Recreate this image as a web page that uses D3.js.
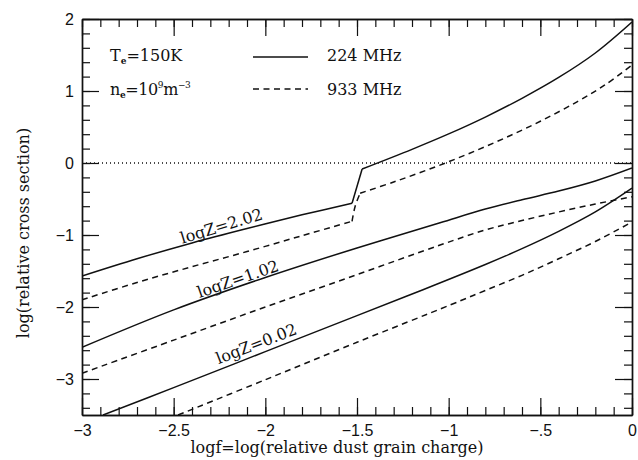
<!DOCTYPE html>
<html>
<head>
<meta charset="utf-8">
<script src="https://cdn.jsdelivr.net/npm/d3@7"></script>
<style>
  body { margin: 0; background: #fff; }
</style>
</head>
<body>
<div id="chart"></div>
<script>
// curves: [logf, log(relative cross section)]
// logZ=2.02 has a step near logf=-1.5, so it is kept in three pieces
var z202_224_lo = [[-3, -1.57], [-2.7, -1.33], [-2.4, -1.11], [-2.1, -0.91], [-1.8, -0.72], [-1.527, -0.56]];
var z202_224_step = [[-1.527, -0.56], [-1.472, -0.083]];
var z202_224_hi = [[-1.472, -0.083], [-1.2, 0.19], [-1.0, 0.404], [-0.8, 0.638], [-0.6, 0.898], [-0.4, 1.188],
  [-0.2, 1.528], [0, 1.958]];
var z202_933_lo = [[-3, -1.90], [-2.7, -1.66], [-2.4, -1.44], [-2.1, -1.23], [-1.8, -1.01], [-1.527, -0.81]];
var z202_933_step = [[-1.527, -0.81], [-1.51, -0.60], [-1.483, -0.42]];
var z202_933_hi = [[-1.483, -0.42], [-1.3, -0.264], [-1.1, -0.08], [-0.9, 0.12], [-0.7, 0.34], [-0.5, 0.58],
  [-0.3, 0.85], [-0.15, 1.08], [0, 1.36]];
var z102_224 = [[-3, -2.56], [-2.5, -2.04], [-2.0, -1.59], [-1.5, -1.18], [-1.047, -0.83], [-0.8, -0.64],
  [-0.6, -0.51], [-0.4, -0.39], [-0.2, -0.25], [0, -0.07]];
var z102_933 = [[-3, -2.92], [-2.5, -2.46], [-2.0, -2.0], [-1.5, -1.55], [-1.047, -1.14], [-0.8, -0.93],
  [-0.6, -0.80], [-0.4, -0.68], [-0.2, -0.57], [0, -0.47]];
var z002_224 = [[-2.885, -3.5], [-2.5, -3.12], [-2.0, -2.62], [-1.5, -2.12], [-1.14, -1.76], [-0.8, -1.41],
  [-0.6, -1.19], [-0.4, -0.95], [-0.2, -0.68], [0, -0.35]];
var z002_933 = [[-2.476, -3.5], [-2.0, -3.01], [-1.5, -2.49], [-0.99, -1.97], [-0.8, -1.77], [-0.6, -1.56],
  [-0.4, -1.33], [-0.2, -1.09], [0, -0.82]];

var curveLabels = ["logZ=2.02", "logZ=1.02", "logZ=0.02"];
var labelPos = [[-2.24, -0.875], [-2.15, -1.61], [-2.05, -2.51]];
var labelAngle = [17, 19, 21];
var freqLabels = ["224 MHz", "933 MHz"];

var xMajor = [-3, -2.5, -2, -1.5, -1, -0.5, 0];
var xTickText = ["\u22123", "\u22122.5", "\u22122", "\u22121.5", "\u22121", "\u2212.5", "0"];
var yMajor = [2, 1, 0, -1, -2, -3];
var yTickText = ["2", "1", "0", "\u22121", "\u22122", "\u22123"];

var W = 638, H = 460;
var margin = { top: 19, right: 6, bottom: 45, left: 82 },
  width = W - margin.left - margin.right,
  height = H - margin.top - margin.bottom;

var svg = d3.select("#chart").append("svg")
  .attr("width", W)
  .attr("height", H)
  .style("font-family", "'DejaVu Serif', serif");

var g = svg.append("g")
  .attr("transform", "translate(" + margin.left + "," + margin.top + ")");

var x = d3.scaleLinear().domain([-3, 0]).range([0, width]);
var y = d3.scaleLinear().domain([-3.5, 2]).range([height, 0]);

var xMinor = d3.range(-30, 1).map(function (d) { return d / 10; });
var yMinor = d3.range(-17, 11).map(function (d) { return d / 5; });

function xFmt(d) { return xTickText[xMajor.indexOf(d)]; }
function yFmt(d) { return yTickText[yMajor.indexOf(d)]; }

// minor ticks first, on all four sides
g.append("g").attr("transform", "translate(0," + height + ")")
  .call(d3.axisBottom(x).tickValues(xMinor).tickSize(-8).tickSizeOuter(0).tickFormat(""));
g.append("g")
  .call(d3.axisTop(x).tickValues(xMinor).tickSize(-8).tickSizeOuter(0).tickFormat(""));
g.append("g")
  .call(d3.axisLeft(y).tickValues(yMinor).tickSize(-8).tickSizeOuter(0).tickFormat(""));
g.append("g").attr("transform", "translate(" + width + ",0)")
  .call(d3.axisRight(y).tickValues(yMinor).tickSize(-8).tickSizeOuter(0).tickFormat(""));

// major ticks + labels
g.append("g").attr("transform", "translate(0," + height + ")")
  .call(d3.axisBottom(x).tickValues(xMajor).tickSize(-17).tickSizeOuter(0).tickPadding(10).tickFormat(xFmt));
g.append("g")
  .call(d3.axisTop(x).tickValues(xMajor).tickSize(-17).tickSizeOuter(0).tickFormat(""));
g.append("g")
  .call(d3.axisLeft(y).tickValues(yMajor).tickSize(-17).tickSizeOuter(0).tickPadding(8).tickFormat(yFmt));
g.append("g").attr("transform", "translate(" + width + ",0)")
  .call(d3.axisRight(y).tickValues(yMajor).tickSize(-17).tickSizeOuter(0).tickFormat(""));

g.selectAll(".domain").attr("stroke", "#111").attr("stroke-width", 1.4);
g.selectAll(".tick line").attr("stroke", "#111").attr("stroke-width", 1.2);
g.selectAll(".tick text")
  .attr("fill", "#111")
  .style("font-family", "'Liberation Sans', Arial, sans-serif")
  .style("font-size", "16px");

// zero line
g.append("line")
  .attr("x1", x(-3)).attr("x2", x(0))
  .attr("y1", y(0)).attr("y2", y(0))
  .attr("stroke", "#111")
  .attr("stroke-width", 1.3)
  .attr("stroke-dasharray", "1,3");

g.append("clipPath").attr("id", "clip")
  .append("rect").attr("width", width).attr("height", height);

var line = d3.line()
  .x(function (d) { return x(d[0]); })
  .y(function (d) { return y(d[1]); })
  .curve(d3.curveCatmullRom.alpha(0.5));

var dashed = "6,4.5";
var pieces = [
  { data: z202_224_lo, dash: null }, { data: z202_224_step, dash: null }, { data: z202_224_hi, dash: null },
  { data: z202_933_lo, dash: dashed }, { data: z202_933_step, dash: dashed }, { data: z202_933_hi, dash: dashed },
  { data: z102_224, dash: null }, { data: z102_933, dash: dashed },
  { data: z002_224, dash: null }, { data: z002_933, dash: dashed }
];

g.selectAll(".curve")
  .data(pieces)
  .enter()
  .append("path")
    .attr("class", "curve")
    .attr("clip-path", "url(#clip)")
    .attr("d", function (d) { return line(d.data); })
    .attr("fill", "none")
    .attr("stroke", "#111")
    .attr("stroke-width", 1.5)
    .attr("stroke-linejoin", "round")
    .attr("stroke-dasharray", function (d) { return d.dash; });

// curve labels along the lines
g.selectAll(".zlab")
  .data(curveLabels)
  .enter()
  .append("text")
    .attr("class", "zlab")
    .attr("transform", function (d, i) {
      return "translate(" + x(labelPos[i][0]) + "," + y(labelPos[i][1]) + ") rotate(" + (-labelAngle[i]) + ")";
    })
    .attr("text-anchor", "middle")
    .attr("dy", "0.35em")
    .style("font-size", "16px")
    .attr("fill", "#111")
    .text(function (d) { return d; });

// legend block
var leg = g.append("g").attr("fill", "#111").style("font-size", "16px");
var t1 = leg.append("text").attr("x", 28).attr("y", 42);
t1.append("tspan").text("T");
t1.append("tspan").attr("dy", 3).style("font-size", "9px").style("font-weight", "bold").text("e");
t1.append("tspan").attr("dy", -3).text("=150K");
var t2 = leg.append("text").attr("x", 28).attr("y", 76).attr("letter-spacing", "-0.4");
t2.append("tspan").text("n");
t2.append("tspan").attr("dy", 3).style("font-size", "9px").style("font-weight", "bold").text("e");
t2.append("tspan").attr("dy", -3).text("=10");
t2.append("tspan").attr("dy", -7).style("font-size", "9px").text("9");
t2.append("tspan").attr("dy", 7).text("m");
t2.append("tspan").attr("dy", -7).style("font-size", "9px").text("\u22123");

leg.selectAll(".lline")
  .data(freqLabels)
  .enter()
  .append("line")
    .attr("x1", 171).attr("x2", 226)
    .attr("y1", function (d, i) { return 38 + i * 32; })
    .attr("y2", function (d, i) { return 38 + i * 32; })
    .attr("stroke", "#111")
    .attr("stroke-width", 1.5)
    .attr("stroke-dasharray", function (d, i) { return i ? dashed : null; });
leg.selectAll(".ltext")
  .data(freqLabels)
  .enter()
  .append("text")
    .attr("x", 245)
    .attr("y", function (d, i) { return 42 + i * 34; })
    .text(function (d) { return d; });

// axis titles
svg.append("text")
  .attr("x", 337)
  .attr("y", 453)
  .attr("text-anchor", "middle")
  .attr("fill", "#111")
  .style("font-size", "16px")
  .text("logf=log(relative dust grain charge)");
svg.append("text")
  .attr("transform", "translate(29,233) rotate(-90)")
  .attr("text-anchor", "middle")
  .attr("fill", "#111")
  .style("font-size", "16px")
  .text("log(relative cross section)");
</script>
</body>
</html>
